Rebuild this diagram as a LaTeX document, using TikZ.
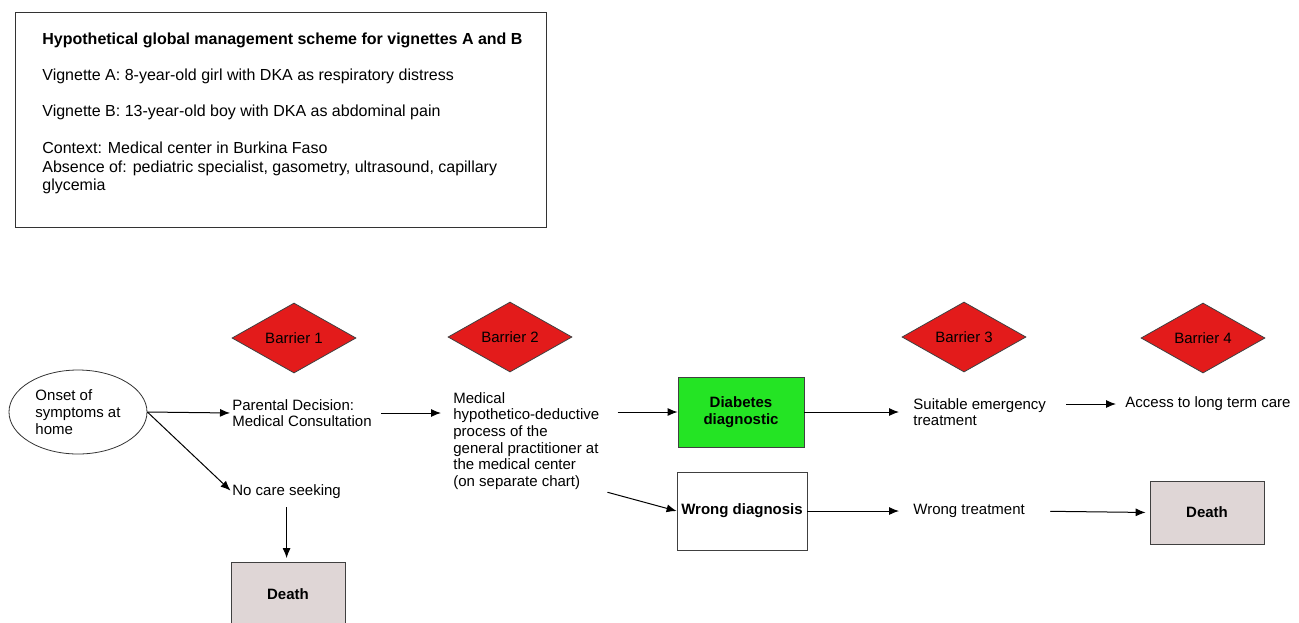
\documentclass[tikz,border=0pt]{standalone}
\usepackage{fontspec}
\setmainfont{Liberation Sans}
\usetikzlibrary{positioning,arrows.meta,shapes.geometric}
\definecolor{barred}{HTML}{E31B1B}
\definecolor{dxgreen}{HTML}{24E424}
\definecolor{dtgray}{HTML}{DFD6D6}
\tikzset{every node/.style={font=\fontsize{7.5pt}{8.35pt}\selectfont},
bv/.style={draw=black!75,fill=barred,diamond,aspect=1.8,minimum width=62pt,minimum
height=35pt,inner sep=0pt,text=black},tv/.style={align=left,inner sep=0pt,anchor=west},
dv/.style={draw=black!75,fill=dtgray,rectangle,minimum width=57pt,minimum
height=31.5pt,inner sep=0pt,font=\fontsize{7.5pt}{8.35pt}\selectfont\bfseries},
ar/.style={->,line width=0.5pt}}

\begin{document}
\begin{tikzpicture}[x=0.5pt,y=-0.5pt,>={Latex[length=5pt,width=4pt]},
		gv/.style={draw=black!75,fill=dxgreen,rectangle,minimum width=63pt,minimum
		height=35pt,inner sep=0pt,align=center,font=\fontsize{7.5pt}{8.35pt}\selectfont\bfseries},
		wv/.style={draw=black!75,fill=white,rectangle,minimum width=65pt,minimum
		height=39pt,inner sep=0pt,font=\fontsize{7.5pt}{8.35pt}\selectfont\bfseries}]
	\useasboundingbox (0,0) rectangle (1299,622);
	\node[draw=black!80,minimum width=265.5pt,minimum height=107.5pt,anchor=north west,inner
	sep=0pt] (hd) at (15,12) {};
	\node[anchor=north west,align=left,inner sep=0pt,font=\fontsize{8pt}{9.25pt}\selectfont]
	(ht) at (42,32) {\textbf{Hypothetical global management scheme for vignettes A and B}\\[9pt]
		Vignette A: 8-year-old girl with DKA as respiratory distress\\[9pt]
		Vignette B: 13-year-old boy with DKA as abdominal pain\\[9pt]
		Context: Medical center in Burkina Faso\\
		Absence of: pediatric specialist, gasometry, ultrasound, capillary\\
		glycemia};
	\node[draw=black!80,ellipse,minimum width=69pt,minimum height=42pt,inner sep=0pt,
	align=left,xshift=1.5pt] (on) at (75,412) {Onset of\\symptoms at\\home};
	\node[tv] (pd) at (232,413) {Parental Decision:\\Medical Consultation};
	\node[tv] (nc) at (232,492) {No care seeking};
	\node[dv] (d1) at (288,594) {Death};
	\node[tv] (md) at (453,441) {Medical\\hypothetico-deductive\\process of the\\general
		practitioner at\\the medical center\\(on separate chart)};
	\node[gv] (dd) at (741,412) {Diabetes\\diagnostic};
	\node[wv] (wd) at (742,511) {Wrong diagnosis};
	\node[tv] (se) at (913,412) {Suitable emergency\\treatment};
	\node[tv] (ac) at (1125,404) {Access to long term care};
	\node[tv] (wt) at (913,511) {Wrong treatment};
	\node[dv] (d2) at (1207,512.5) {Death};
	\node[bv] (b1) at (294,338) {Barrier 1};
	\node[bv] (b2) at (510,337) {Barrier 2};
	\node[bv] (b3) at (964,337) {Barrier 3};
	\node[bv] (b4) at (1203,338) {Barrier 4};
	\draw[ar,shorten >=1pt] (on.east) -- (pd.west);
	\draw[ar,shorten >=1pt] (on.east) -- (nc.west);
	\draw[ar,shorten <=4pt,shorten >=2pt] (nc.south) -- (nc.south |- d1.north);
	\draw[ar,shorten <=4.5pt,shorten >=6pt] (pd.east) -- (md.west |- pd.east);
	\draw[ar,shorten <=9pt] (md.east |- dd.west) -- (dd.west);
	\draw[ar,shorten <=4pt] (md.south east) -- (wd.west);
	\draw[ar,shorten >=7pt] (dd.east) -- (se.west);
	\draw[ar,shorten <=10pt,shorten >=4.5pt] (se.east |- ac.west) -- (ac.west);
	\draw[ar,shorten >=7pt] (wd.east) -- (wt.west);
	\draw[ar,shorten <=12.5pt,shorten >=2pt] (wt.east) -- (d2.west);
\end{tikzpicture}
\end{document}
